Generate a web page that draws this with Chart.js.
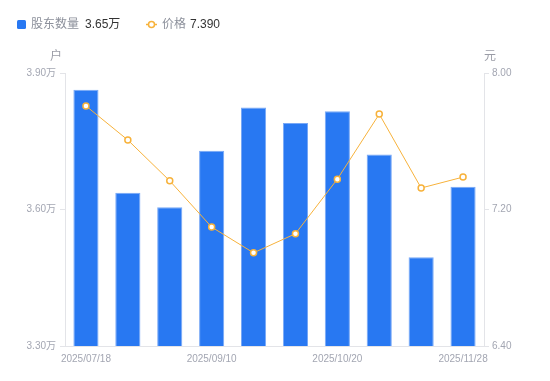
<!DOCTYPE html>
<html>
<head>
<meta charset="utf-8">
<script src="https://cdn.jsdelivr.net/npm/chart.js@4/dist/chart.umd.min.js"></script>
<style>
  html, body { margin: 0; padding: 0; background: #fff; }
  #wrap { width: 550px; height: 381px; position: relative; }
</style>
</head>
<body>
<div id="wrap"><canvas id="c" width="550" height="381"></canvas></div>
<script>
const dates = ['2025/07/18','2025/07/31','2025/08/20','2025/09/10','2025/09/19','2025/09/30','2025/10/20','2025/10/31','2025/11/10','2025/11/28'];
const shownDateIdx = [0, 3, 6, 9];
const holders = [3.863, 3.637, 3.605, 3.729, 3.824, 3.790, 3.816, 3.721, 3.495, 3.650];
const prices = [7.807, 7.607, 7.368, 7.097, 6.946, 7.058, 7.378, 7.759, 7.326, 7.390];
const holderTicks = [3.30, 3.60, 3.90];
const priceTicks = [6.40, 7.20, 8.00];
const holderName = '股东数量';
const priceName = '价格';
const holderUnit = '户';
const priceUnit = '元';

const FONT = 'Arial, "Liberation Sans", "Noto Sans CJK SC", sans-serif';
const BLUE = '#2878f2';
const ORANGE = '#f7b23b';
const AXIS = '#e3e4e8';
const TICK = '#a3a6b2';

const overlay = {
  id: 'overlay',
  afterDraw(chart) {
    const ctx = chart.ctx;
    ctx.save();
    ctx.textBaseline = 'middle';
    ctx.font = '12px ' + FONT;
    // legend 1
    ctx.fillStyle = BLUE;
    ctx.beginPath();
    ctx.roundRect(17, 20, 9, 9, 1.5);
    ctx.fill();
    ctx.textAlign = 'left';
    ctx.fillStyle = '#8c909b';
    ctx.fillText(holderName, 31, 25);
    ctx.fillStyle = '#333';
    ctx.fillText(holders[holders.length - 1].toFixed(2) + '万', 85, 25);
    // legend 2
    ctx.strokeStyle = ORANGE;
    ctx.lineWidth = 1.5;
    ctx.beginPath();
    ctx.moveTo(146, 24.5); ctx.lineTo(157, 24.5);
    ctx.stroke();
    ctx.beginPath();
    ctx.arc(151.5, 24.5, 3, 0, Math.PI * 2);
    ctx.fillStyle = '#fff';
    ctx.fill();
    ctx.stroke();
    ctx.fillStyle = '#8c909b';
    ctx.fillText(priceName, 162, 25);
    ctx.fillStyle = '#333';
    ctx.fillText(prices[prices.length - 1].toFixed(3), 190, 25);
    // units
    ctx.fillStyle = '#9a9ca6';
    ctx.textAlign = 'center';
    ctx.fillText(holderUnit, 56, 57);
    ctx.fillText(priceUnit, 490, 57);
    ctx.restore();
  }
};

new Chart(document.getElementById('c'), {
  data: {
    labels: dates,
    datasets: [
      {
        type: 'line',
        label: priceName,
        data: prices,
        yAxisID: 'y1',
        borderColor: ORANGE,
        borderWidth: 1,
        pointRadius: 3,
        pointBorderWidth: 1.5,
        pointBackgroundColor: '#fff',
        pointBorderColor: ORANGE,
        tension: 0,
        order: 0
      },
      {
        type: 'bar',
        label: holderName,
        data: holders,
        yAxisID: 'y',
        backgroundColor: BLUE,
        borderColor: '#78a8f6',
        borderWidth: 1,
        categoryPercentage: 1,
        barPercentage: 0.6,
        order: 1
      }
    ]
  },
  options: {
    responsive: false,
    animation: false,
    layout: { padding: { top: 73, bottom: 0, left: 0, right: 0 } },
    plugins: { legend: { display: false }, tooltip: { enabled: false } },
    scales: {
      x: {
        offset: true,
        grid: { display: false, drawTicks: false },
        border: { color: AXIS },
        ticks: {
          autoSkip: false,
          maxRotation: 0,
          padding: 7,
          color: TICK,
          font: { size: 10, family: FONT },
          callback: (v, i) => shownDateIdx.includes(i) ? dates[i] : ''
        },
        afterFit: s => { s.height = 35; }
      },
      y: {
        position: 'left',
        min: holderTicks[0],
        max: holderTicks[holderTicks.length - 1],
        afterBuildTicks: s => { s.ticks = holderTicks.map(v => ({ value: v })); },
        grid: { drawOnChartArea: false, tickLength: 5, color: AXIS },
        border: { color: AXIS },
        ticks: {
          padding: 4,
          color: TICK,
          font: { size: 10, family: FONT },
          callback: v => v.toFixed(2) + '万'
        },
        afterFit: s => { s.width = 65; }
      },
      y1: {
        position: 'right',
        min: priceTicks[0],
        max: priceTicks[priceTicks.length - 1],
        afterBuildTicks: s => { s.ticks = priceTicks.map(v => ({ value: v })); },
        grid: { drawOnChartArea: false, tickLength: 5, color: AXIS },
        border: { color: AXIS },
        ticks: {
          padding: 3,
          color: TICK,
          font: { size: 10, family: FONT },
          callback: v => v.toFixed(2)
        },
        afterFit: s => { s.width = 66; }
      }
    }
  },
  plugins: [overlay]
});
</script>
</body>
</html>
